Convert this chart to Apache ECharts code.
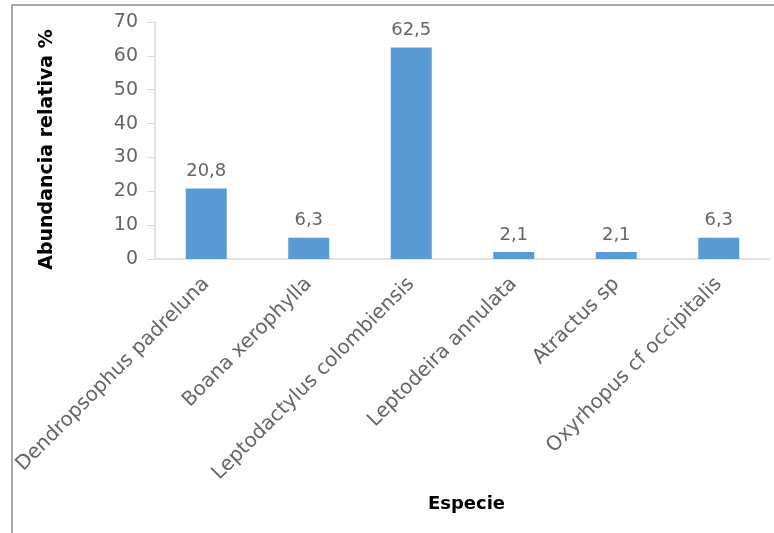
<!DOCTYPE html>
<html>
<head>
<meta charset="utf-8">
<script src="https://cdn.jsdelivr.net/npm/echarts@6/dist/echarts.min.js"></script>
<style>html,body{margin:0;padding:0;background:#fff}#c{width:774px;height:533px}</style>
</head>
<body>
<div id="c"></div>
<script>
var categories = ["Dendropsophus padreluna", "Boana xerophylla", "Leptodactylus colombiensis", "Leptodeira annulata", "Atractus sp", "Oxyrhopus cf occipitalis"];
var values = [20.8, 6.3, 62.5, 2.1, 2.1, 6.3];
var yTicks = [0, 10, 20, 30, 40, 50, 60, 70];

var FONT = "DejaVu Sans";
var chart = echarts.init(document.getElementById('c'), null, {renderer: 'canvas'});
chart.setOption({
  animation: false,
  backgroundColor: '#fff',
  graphic: [{
    type: 'rect', shape: {x: 12, y: 5, width: 800, height: 600},
    style: {fill: null, stroke: '#8c8c8c', lineWidth: 1.5}, silent: true, z: -1
  }],
  grid: {left: 155, right: 4, top: 22, bottom: 274, containLabel: false},
  xAxis: {
    type: 'category', data: categories,
    axisLine: {lineStyle: {color: '#d9d9d9', width: 1.5}},
    axisTick: {show: false},
    axisLabel: {rotate: 45, interval: 0, color: '#666666', fontFamily: FONT, fontSize: 20, margin: 22},
    name: 'Especie', nameLocation: 'middle', nameGap: 236,
    nameTextStyle: {color: '#000', fontWeight: 'bold', fontSize: 18, fontFamily: FONT, padding: [0, 0, 0, 8]}
  },
  yAxis: {
    type: 'value', min: yTicks[0], max: yTicks[yTicks.length - 1], interval: 10,
    axisLine: {show: true, lineStyle: {color: '#d9d9d9', width: 1.5}},
    axisTick: {show: true, length: 8, lineStyle: {color: '#d9d9d9'}},
    splitLine: {show: false},
    axisLabel: {color: '#666666', fontFamily: FONT, fontSize: 19, margin: 17},
    name: 'Abundancia relativa %', nameLocation: 'middle', nameGap: 98,
    nameTextStyle: {color: '#000', fontWeight: 'bold', fontSize: 19, fontFamily: FONT, padding: [0, 18, 0, 0]}
  },
  series: [{
    type: 'bar', data: values, barCategoryGap: '60%',
    itemStyle: {color: '#5b9bd5'},
    label: {show: true, position: 'top', distance: 8, color: '#666666', fontFamily: FONT, fontSize: 18,
      formatter: function (p) { return String(p.value).replace('.', ','); }}
  }]
});
</script>
</body>
</html>
